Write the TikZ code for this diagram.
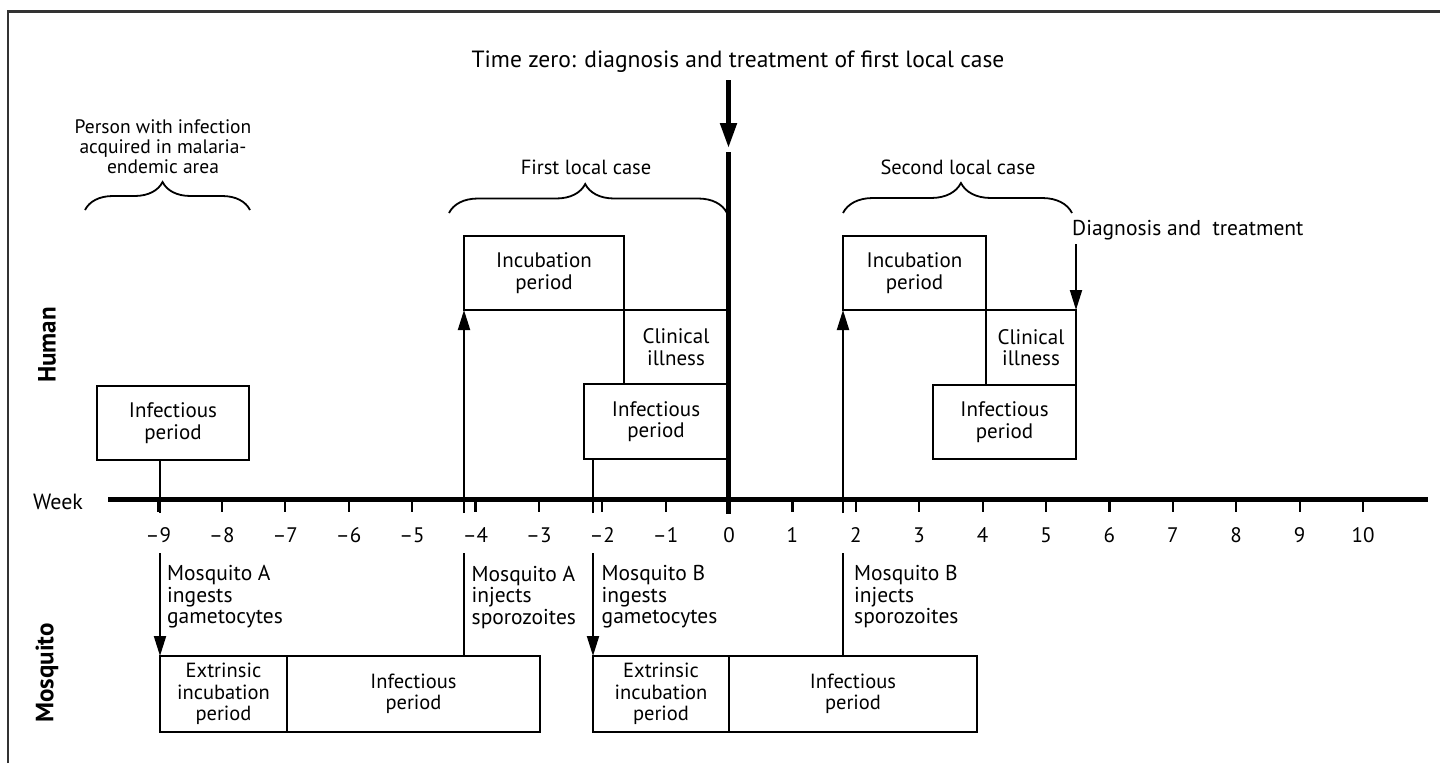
\documentclass[tikz,border=0pt]{standalone}
\usepackage{fontspec}
\setmainfont{PT Sans}
\newfontfamily\condfont{PT Sans}
\usetikzlibrary{arrows.meta,decorations.pathreplacing}
\definecolor{framegray}{HTML}{333333}
\begin{document}
\begin{tikzpicture}[x=1pt,y=-1pt,
  hbox/.style={draw, line width=2.3pt, anchor=north west, inner sep=0pt, outer sep=0pt, align=center, font=\fontsize{21}{21.5}\selectfont},
  mbox/.style={hbox, font=\condfont\fontsize{20.5}{21.5}\selectfont},
  thinln/.style={line width=2pt},
  arr/.style={thinln, -{Triangle[length=20pt,width=12pt]}},
  brc/.style={decorate, line width=1.8pt, decoration={brace, amplitude=#1pt, aspect=\braceaspect}},
  lbl/.style={font=\fontsize{20.5}{22}\selectfont, inner sep=0pt, align=center},
  mlbl/.style={font=\condfont\fontsize{21.5}{21.5}\selectfont, inner sep=0pt, align=left, anchor=west},
  side/.style={rotate=90, font=\bfseries\fontsize{25}{25}\selectfont, inner sep=0pt},
  ticklbl/.style={font=\condfont\fontsize{21}{21}\selectfont, inner sep=0pt}
]
\useasboundingbox (0,0) rectangle (1440,763);
% frame (left and top only)
\coordinate (fbl) at (8,763);
\coordinate (ftl) at (8,11.5);
\coordinate (ftr) at (1440,11.5);
\draw[framegray, line width=2.5pt] (fbl) -- (ftl) -- (ftr);

% title and time-zero arrow
\node[lbl, font=\fontsize{23.5}{24}\selectfont] (title) at (738,62) {Time zero: diagnosis and treatment of first local case};
\coordinate (t0top) at (728.5,80);
\coordinate (t0tip) at (728.5,148);
\draw[line width=5pt, -{Triangle[length=25pt,width=16pt]}] (t0top) -- (t0tip);
\coordinate (z0top) at (728.5,152);
\coordinate (z0bot) at (728.5,514);
\draw[line width=5pt] (z0top) -- (z0bot);

% braces
\def\braceaspect{0.47}
\coordinate (b1l) at (85,210); \coordinate (b1r) at (250,210);
\draw[brc=28] (b1l) -- (b1r);
\def\braceaspect{0.49}
\coordinate (b2l) at (449,213); \coordinate (b2r) at (727,213);
\draw[brc=29] (b2l) -- (b2r);
\def\braceaspect{0.515}
\coordinate (b3l) at (843,213); \coordinate (b3r) at (1072,213);
\draw[brc=30] (b3l) -- (b3r);

\node[lbl, font=\fontsize{19.5}{20}\selectfont] (person) at (163,147) {Person with infection\\acquired in malaria-\\endemic area};
\node[lbl] (first) at (586,167) {First local case};
\node[lbl] (second) at (958,167) {Second local case};
\node[lbl, anchor=west, font=\fontsize{21.5}{22}\selectfont] (diag) at (1072,230) {Diagnosis and~ treatment};

% human boxes
\node[hbox, minimum width=152pt, minimum height=74pt] (inf0) at (97,386) {Infectious\\period};
\node[hbox, minimum width=160pt, minimum height=74pt] (inc1) at (464,236) {Incubation\\period};
\node[hbox, minimum width=104pt, minimum height=74pt] (clin1) at (624,310) {Clinical\\illness};
\node[hbox, minimum width=144pt, minimum height=75pt] (inf1) at (584,384) {Infectious\\period};
\node[hbox, minimum width=143pt, minimum height=74pt] (inc2) at (843,236) {Incubation\\period};
\node[hbox, minimum width=90pt, minimum height=75pt] (clin2) at (986,310) {Clinical\\illness};
\node[hbox, minimum width=143pt, minimum height=74pt] (inf2) at (933,385) {Infectious\\period};

% mosquito boxes
\node[mbox, minimum width=127pt, minimum height=76pt] (mA1) at (160,656) {Extrinsic\\incubation\\period};
\node[mbox, minimum width=253pt, minimum height=76pt] (mA2) at (287,656) {Infectious\\period};
\node[mbox, minimum width=136pt, minimum height=76pt] (mB1) at (593,656) {Extrinsic\\incubation\\period};
\node[mbox, minimum width=248pt, minimum height=76pt] (mB2) at (729,656) {Infectious\\period};

% axis
\coordinate (axL) at (108,499.5);
\coordinate (axR) at (1428,499.5);
\draw[line width=4.5pt] (axL) -- (axR);
\foreach \i [count=\k] in {-9,...,10}{
  \pgfmathsetmacro{\xx}{729+63.4*\i}
  \coordinate (tk\k) at (\xx,499);
  \coordinate (tkb\k) at (\xx,512);
  \draw[line width=2.2pt] (tk\k) -- (tkb\k);
  \ifnum\i<0
    \node[ticklbl] (tl\k) at (\xx,535) {–\the\numexpr-\i\relax};
  \else
    \node[ticklbl] (tl\k) at (\xx,535) {\i};
  \fi
}
\node[ticklbl, font=\condfont\fontsize{22}{22}\selectfont] (week) at (58,502) {Week};

% side labels
\node[side] (human) at (47,345) {Human};
\node[side] (mosq) at (47,673) {Mosquito};

% human connectors
\coordinate (l0b) at (159.5,513);
\draw[thinln] (l0b) -- (l0b |- inf0.south);
\coordinate (a1b) at (464,513);
\draw[arr] (a1b) -- (inc1.south west);
\coordinate (l1b) at (593,513);
\draw[thinln] (l1b) -- (l1b |- inf1.south);
\coordinate (a2b) at (843,513);
\draw[arr] (a2b) -- (inc2.south west);
\coordinate (dtop) at (1076,244);
\draw[arr] (dtop) -- (clin2.north east);

% mosquito connectors and labels
\coordinate (m1t) at (160,553);
\draw[arr] (m1t) -- (mA1.north west);
\coordinate (m2t) at (464,553);
\draw[thinln] (m2t) -- (m2t |- mA2.north);
\coordinate (m3t) at (593,553);
\draw[arr] (m3t) -- (mB1.north west);
\coordinate (m4t) at (843,553);
\draw[thinln] (m4t) -- (m4t |- mB2.north);

\node[mlbl] (ml1) at (167,597) {Mosquito A\\ingests\\gametocytes};
\node[mlbl] (ml2) at (471.5,597) {Mosquito A\\injects\\sporozoites};
\node[mlbl] (ml3) at (601.5,597) {Mosquito B\\ingests\\gametocytes};
\node[mlbl] (ml4) at (854,597) {Mosquito B\\injects\\sporozoites};
\end{tikzpicture}
\end{document}
